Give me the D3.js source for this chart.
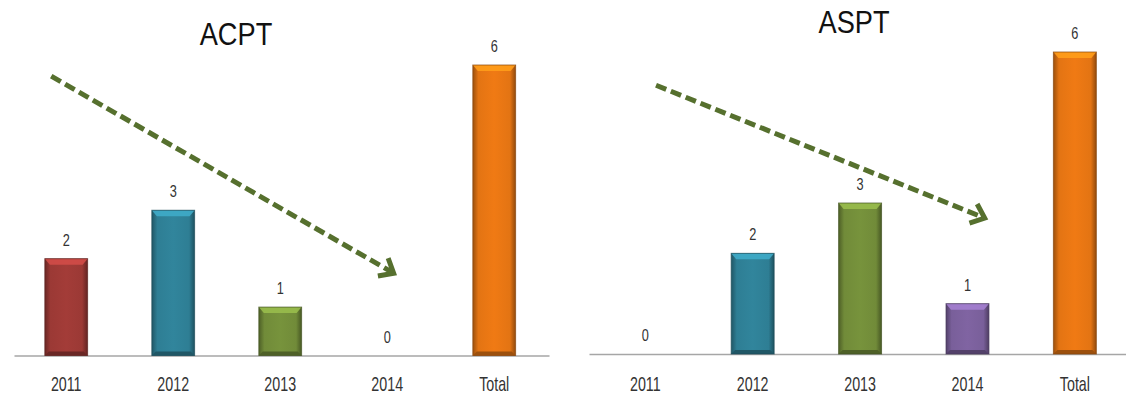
<!DOCTYPE html>
<html>
<head>
<meta charset="utf-8">
<script src="https://cdn.jsdelivr.net/npm/d3@7"></script>
<style>
  html, body { margin: 0; padding: 0; background: #fff; }
  svg { display: block; }
</style>
</head>
<body>
<div id="chart"></div>
<script>
// ---- data ----
const categories = ["2011", "2012", "2013", "2014", "Total"];
const acptValues = [2, 3, 1, 0, 6];
const asptValues = [0, 2, 3, 1, 6];
const acptColors = ["#a33c38", "#31859c", "#77933c", "#8064a2", "#f07a14"];
const asptColors = ["#a33c38", "#31859c", "#77933c", "#8064a2", "#f07a14"];
// trend arrows: [category index (fractional), value]
const acptTrend = [[-0.14, 5.77], [3.06, 1.70]];
const asptTrend = [[0.10, 5.34], [3.16, 2.70]];

const W = 1126, H = 397;

const svg = d3.select("#chart").append("svg")
  .attr("width", W)
  .attr("height", H)
  .attr("viewBox", `0 0 ${W} ${H}`);

const defs = svg.append("defs");

// ---- one panel ----
function drawPanel(opts) {
  const { title, values, colors, trend, xRange, align, yRange, titlePos, id } = opts;
  const g = svg.append("g").attr("class", "panel-" + id);

  const x = d3.scaleBand()
    .domain(categories)
    .range(xRange)
    .paddingInner(0.6)
    .paddingOuter(0.3)
    .align(align);

  const y = d3.scaleLinear().domain([0, 6]).range(yRange);
  const base = y(0);
  const bw = x.bandwidth();

  // gradients per bar colour
  values.forEach((v, i) => {
    const c = d3.color(colors[i]);
    const grad = defs.append("linearGradient")
      .attr("id", `g-${id}-${i}`)
      .attr("x1", "0").attr("x2", "1").attr("y1", "0").attr("y2", "0");
    grad.append("stop").attr("offset", "0").attr("stop-color", c.darker(1.2));
    grad.append("stop").attr("offset", "0.13").attr("stop-color", c.darker(0.15));
    grad.append("stop").attr("offset", "0.5").attr("stop-color", c);
    grad.append("stop").attr("offset", "0.87").attr("stop-color", c.darker(0.15));
    grad.append("stop").attr("offset", "1").attr("stop-color", c.darker(1.4));
  });

  // axis (baseline line + category labels)
  const axis = g.append("g")
    .attr("transform", `translate(0,${base})`)
    .call(d3.axisBottom(x).tickSize(0).tickSizeOuter(0));
  axis.select(".domain").attr("stroke", "#a6a6a6").attr("stroke-width", 1.3);
  axis.selectAll(".tick text")
    .attr("y", 35.5 - (base - 355.5))
    .attr("dy", 0)
    .attr("transform", "scale(0.68,1)")
    .style("font-family", "'Liberation Sans', Arial, sans-serif")
    .style("font-size", "21px")
    .attr("fill", "#333");

  // bars
  const data = categories.map((c, i) => ({ cat: c, value: values[i], i }));
  const bars = g.selectAll(".bar").data(data.filter(d => d.value > 0)).join("g")
    .attr("class", "bar");

  bars.append("rect")
    .attr("x", d => x(d.cat))
    .attr("y", d => y(d.value))
    .attr("width", bw)
    .attr("height", d => base - y(d.value))
    .attr("fill", d => `url(#g-${id}-${d.i})`);

  // top bevel highlight
  bars.append("path")
    .attr("d", d => {
      const x0 = x(d.cat), t = y(d.value);
      return `M${x0},${t}L${x0 + bw},${t}L${x0 + bw - 5},${t + 6}L${x0 + 5},${t + 6}Z`;
    })
    .attr("fill", d => d3.color(colors[d.i]).brighter(0.7))
    .attr("opacity", 0.9);

  // bottom bevel shade
  bars.append("path")
    .attr("d", d => {
      const x0 = x(d.cat);
      return `M${x0},${base}L${x0 + bw},${base}L${x0 + bw - 4},${base - 4}L${x0 + 4},${base - 4}Z`;
    })
    .attr("fill", d => d3.color(colors[d.i]).darker(1.2));

  bars.append("rect")
    .attr("x", d => x(d.cat))
    .attr("y", d => y(d.value))
    .attr("width", bw)
    .attr("height", d => base - y(d.value))
    .attr("fill", "none")
    .attr("stroke", d => d3.color(colors[d.i]).darker(1.6))
    .attr("stroke-width", 1)
    .attr("stroke-opacity", 0.7);

  // value labels
  g.selectAll(".val").data(data).join("text")
    .attr("class", "val")
    .attr("transform", d => `translate(${x(d.cat) + bw / 2},${y(d.value) - 13}) scale(0.75,1)`)
    .attr("text-anchor", "middle")
    .style("font-family", "'Liberation Sans', Arial, sans-serif")
    .style("font-size", "17px")
    .attr("fill", "#333")
    .text(d => d.value);

  // title
  g.append("text")
    .attr("transform", `translate(${titlePos[0]},${titlePos[1]}) scale(0.85,1)`)
    .attr("text-anchor", "middle")
    .style("font-family", "'Liberation Sans', Arial, sans-serif")
    .style("font-size", "32px")
    .attr("fill", "#111")
    .text(title);

  // trend arrow
  const xi = t => x(categories[0]) + bw / 2 + t * x.step();
  const p0 = [xi(trend[0][0]), y(trend[0][1])];
  const p1 = [xi(trend[1][0]), y(trend[1][1])];
  const ang = Math.atan2(p1[1] - p0[1], p1[0] - p0[0]);
  const back = ang + Math.PI;
  const arm = 16, spread = 40 * Math.PI / 180;
  const a1 = [p1[0] + arm * Math.cos(back - spread), p1[1] + arm * Math.sin(back - spread)];
  const a2 = [p1[0] + arm * Math.cos(back + spread), p1[1] + arm * Math.sin(back + spread)];
  const lineEnd = [p1[0] - 3 * Math.cos(ang), p1[1] - 3 * Math.sin(ang)];
  const green = "#56702e";

  g.append("path")
    .attr("d", d3.line()([p0, lineEnd]))
    .attr("stroke", green)
    .attr("stroke-width", 5)
    .attr("stroke-dasharray", "11,5")
    .attr("fill", "none");

  g.append("path")
    .attr("d", d3.line()([a1, p1, a2]))
    .attr("stroke", green)
    .attr("stroke-width", 5)
    .attr("stroke-linejoin", "miter")
    .attr("fill", "none");
}

drawPanel({
  id: "acpt",
  title: "ACPT",
  values: acptValues,
  colors: acptColors,
  trend: acptTrend,
  xRange: [14, 549],
  align: 0.48,
  yRange: [355.5, 65],
  titlePos: [236, 45]
});

drawPanel({
  id: "aspt",
  title: "ASPT",
  values: asptValues,
  colors: asptColors,
  trend: asptTrend,
  xRange: [589, 1126],
  align: 0.54,
  yRange: [354, 52],
  titlePos: [854, 33]
});
</script>
</body>
</html>
